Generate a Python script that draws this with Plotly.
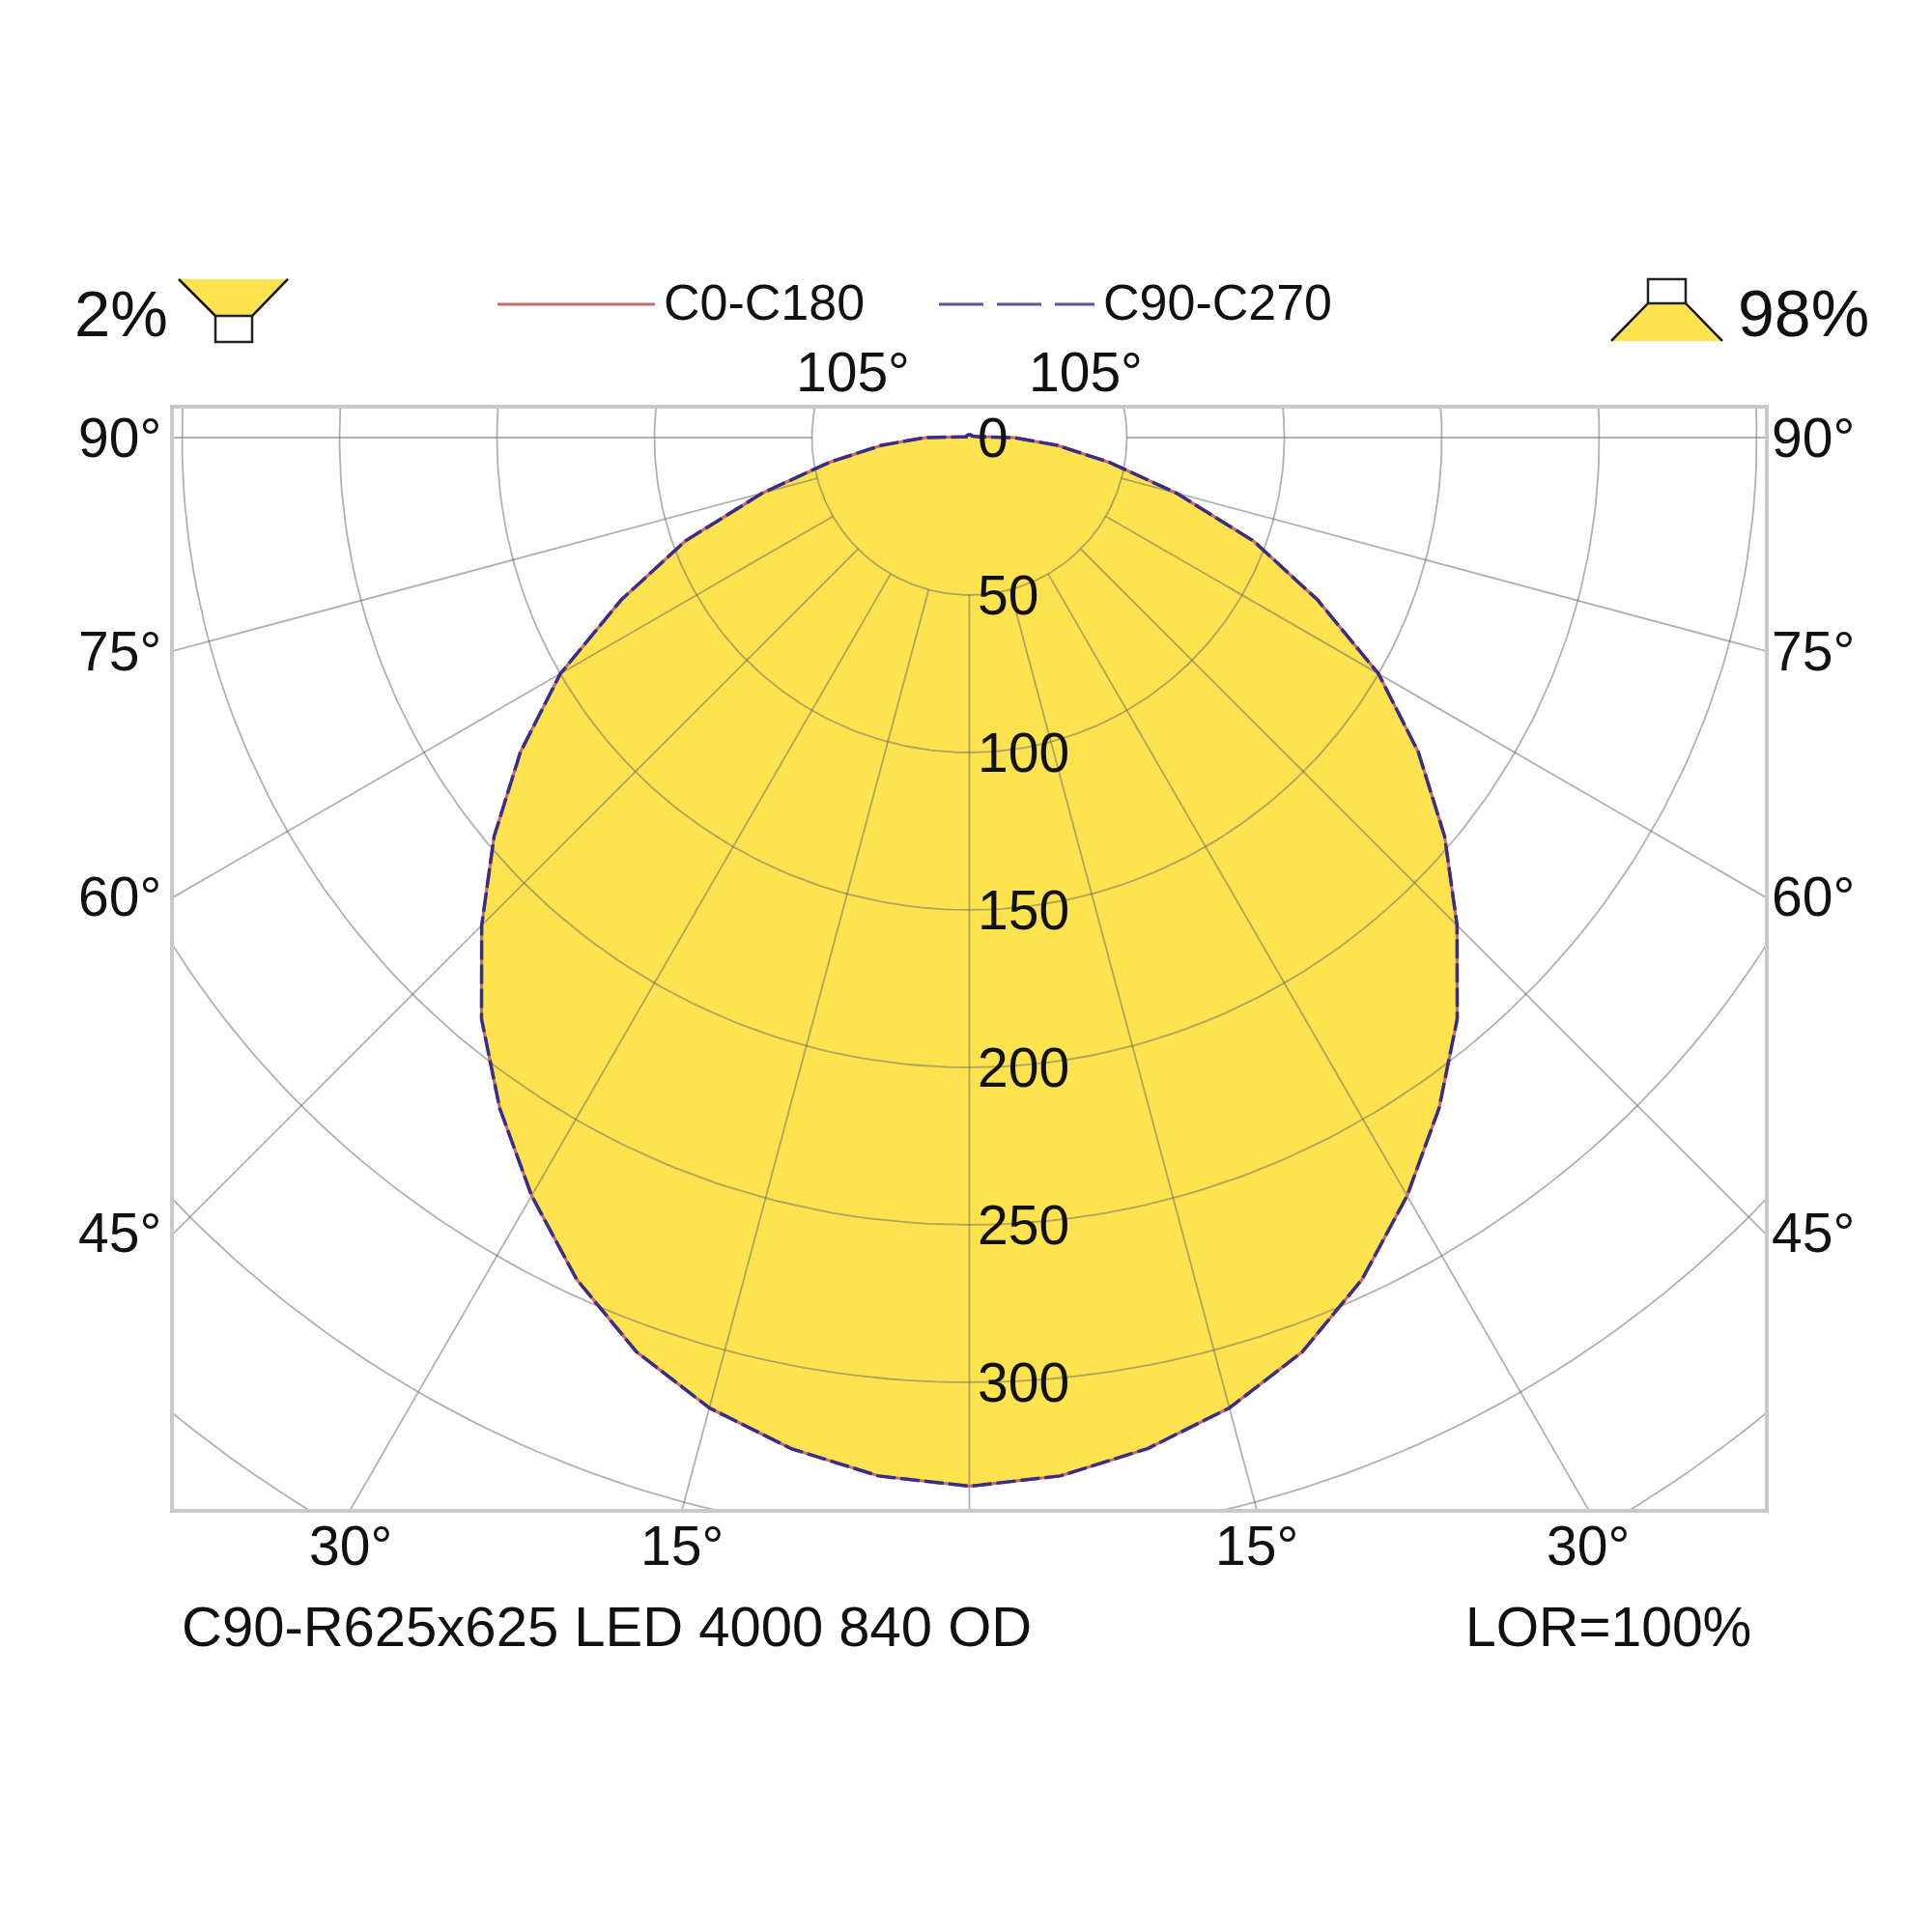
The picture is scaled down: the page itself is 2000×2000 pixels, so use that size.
import numpy as np
import plotly.graph_objects as go

# Luminous intensity, gamma 0..180 deg in 5 deg steps
GAMMA = list(range(0, 181, 5))
I_C0_C180 = [333, 331, 326, 319, 309, 295, 278, 260, 241, 219, 197, 174, 150,
             122, 96, 68, 45, 28, 14, 3, 1.5, 1, 1, 1, 1, 1, 1, 1, 1, 1, 1,
             1, 1, 1, 1, 1, 1]
I_C90_C270 = [333, 331, 326, 319, 309, 295, 278, 260, 241, 219, 197, 174, 150,
              122, 96, 68, 45, 28, 14, 3, 1.5, 1, 1, 1, 1, 1, 1, 1, 1, 1, 1,
              1, 1, 1, 1, 1, 1]

RINGS = [50, 100, 150, 200, 250, 300, 350, 400]
RING_LABELS = [0, 50, 100, 150, 200, 250, 300]
SPOKES = list(range(-90, 91, 15))
ANGLE_LABELS = [15, 30, 45, 60, 75, 90, 105]

PRODUCT = "C90-R625x625 LED 4000 840 OD"
LOR = "LOR=100%"
DOWN_SHARE = "98%"
UP_SHARE = "2%"
SERIES = ["C0-C180", "C90-C270"]

# view window of the frame (intensity units)
X_HALF = 252.6
Y_TOP = 9.2
Y_BOTTOM = -340.2

W, H = 2000, 2000
OFF = 8  # page margin of the html body
# frame edges on the page: left 180, right 1827, top 423, bottom 1562
ML, MR, MT, MB = 180 - OFF, W - (1827 - OFF), 423 - OFF, H - (1562 - OFF)

FONT = "Liberation Sans, Arial, sans-serif"
YELLOW = "#fde350"
RED = "#c96a6a"
PURPLE = "#3a2d88"
GRID = "rgba(100,100,100,0.5)"
FRAME = "#c9c9c9"


def pp(px, py):
    # page pixel position -> paper coordinates
    px, py = px - OFF, py - OFF
    return (px - ML) / (W - ML - MR), (H - MB - py) / (H - MT - MB)


def full_curve(vals):
    g = np.array(GAMMA, dtype=float)
    v = np.array(vals, dtype=float)
    theta = np.concatenate([-g[::-1], g[1:]])
    r = np.concatenate([v[::-1], v[1:]])
    t = np.radians(theta)
    return r * np.sin(t), -r * np.cos(t)


fig = go.Figure()

# yellow body
fx, fy = full_curve(I_C0_C180)
fig.add_trace(go.Scatter(x=fx, y=fy, mode="lines", fill="toself",
                         fillcolor=YELLOW, line=dict(width=0),
                         hoverinfo="skip", showlegend=False))

# polar grid: rings and spokes
gx, gy = [], []
phi = np.linspace(0, 2 * np.pi, 361)
for r in RINGS:
    gx += list(r * np.sin(phi)) + [None]
    gy += list(-r * np.cos(phi)) + [None]
for a in SPOKES:
    t = np.radians(a)
    gx += [50 * np.sin(t), 700 * np.sin(t), None]
    gy += [-50 * np.cos(t), -700 * np.cos(t), None]
fig.add_trace(go.Scatter(x=gx, y=gy, mode="lines",
                         line=dict(color=GRID, width=1.8),
                         hoverinfo="skip", showlegend=False))

# C-plane curves
cx, cy = full_curve(I_C0_C180)
fig.add_trace(go.Scatter(x=cx, y=cy, mode="lines", name=SERIES[0],
                         line=dict(color=RED, width=3), showlegend=False))
dx, dy = full_curve(I_C90_C270)
fig.add_trace(go.Scatter(x=dx, y=dy, mode="lines", name=SERIES[1],
                         line=dict(color=PURPLE, width=3.5, dash="20px,5px"),
                         showlegend=False))

ann = []
# intensity scale labels
for v in RING_LABELS:
    ann.append(dict(x=0, y=-v, xref="x", yref="y", text=str(v),
                    xanchor="left", yanchor="middle", xshift=6,
                    showarrow=False, font=dict(size=57)))

# angle labels where the spokes leave the frame
for a in ANGLE_LABELS:
    for side in (-1, 1):
        t = np.radians(a)
        ux, uy = side * np.sin(t), -np.cos(t)
        tx = X_HALF / abs(ux)
        ty = (Y_BOTTOM / uy) if uy < -1e-9 else ((Y_TOP / uy) if uy > 1e-9 else 1e9)
        s = min(tx, ty)
        d = dict(x=ux * s, y=uy * s, xref="x", yref="y", text=f"{a}°",
                 showarrow=False, font=dict(size=57))
        if tx <= ty:
            d.update(xanchor="left" if side > 0 else "right",
                     xshift=5 if side > 0 else -11, yanchor="middle")
        elif uy < 0:
            d.update(xanchor="center", yanchor="top", yshift=-4)
        else:
            d.update(xanchor="center", yanchor="bottom", yshift=4,
                     xshift=9 * side)
        ann.append(d)

# header / footer texts
for txt, px, py, xa, size in [
    (UP_SHARE, 75, 324, "left", 67),
    (DOWN_SHARE, 1797, 324, "left", 68),
    (SERIES[0], 685, 313, "left", 52),
    (SERIES[1], 1140, 313, "left", 52),
    (PRODUCT, 186, 1684, "left", 58),
    (LOR, 1815, 1684, "right", 57),
]:
    x0, y0 = pp(px, py)
    ann.append(dict(x=x0, y=y0, xref="paper", yref="paper", text=txt,
                    xanchor=xa, yanchor="middle", showarrow=False,
                    font=dict(size=size)))

shapes = []


def path(points, close=True):
    s = ""
    for i, (px, py) in enumerate(points):
        x0, y0 = pp(px, py)
        s += ("M" if i == 0 else "L") + f"{x0:.5f},{y0:.5f} "
    return s + ("Z" if close else "")


# legend strokes
x0, y0 = pp(515, 315)
x1, _ = pp(678, 315)
shapes.append(dict(type="line", xref="paper", yref="paper", x0=x0, x1=x1,
                   y0=y0, y1=y0, line=dict(color=RED, width=3)))
x0, y0 = pp(972, 315)
x1, _ = pp(1133, 315)
shapes.append(dict(type="line", xref="paper", yref="paper", x0=x0, x1=x1,
                   y0=y0, y1=y0, line=dict(color="#5b52a8", width=3,
                                           dash="46px,14px")))

# upward-light icon (2%)
shapes.append(dict(type="path", xref="paper", yref="paper",
                   path=path([(185, 289), (298, 289), (261, 327), (223, 327)]),
                   fillcolor=YELLOW, line=dict(width=0)))
shapes.append(dict(type="path", xref="paper", yref="paper",
                   path=path([(185, 289), (223, 327)], False) + " " +
                   path([(298, 289), (261, 327)], False),
                   line=dict(color="#111", width=2.5)))
shapes.append(dict(type="path", xref="paper", yref="paper",
                   path=path([(223, 327), (261, 327), (261, 354), (223, 354)]),
                   fillcolor="white", line=dict(color="#222", width=2.5)))

# downward-light icon (98%)
shapes.append(dict(type="path", xref="paper", yref="paper",
                   path=path([(1706, 314), (1745, 314), (1783, 353), (1668, 353)]),
                   fillcolor=YELLOW, line=dict(width=0)))
shapes.append(dict(type="path", xref="paper", yref="paper",
                   path=path([(1706, 314), (1668, 353)], False) + " " +
                   path([(1745, 314), (1783, 353)], False),
                   line=dict(color="#111", width=2.5)))
shapes.append(dict(type="path", xref="paper", yref="paper",
                   path=path([(1706, 289), (1745, 289), (1745, 314), (1706, 314)]),
                   fillcolor="white", line=dict(color="#222", width=2.5)))

fig.update_layout(
    width=W, height=H, autosize=False,
    margin=dict(l=ML, r=MR, t=MT, b=MB),
    paper_bgcolor="white", plot_bgcolor="white",
    font=dict(family=FONT, color="#111"),
    showlegend=False,
    annotations=ann,
    shapes=shapes,
    xaxis=dict(range=[-X_HALF, X_HALF], showgrid=False, zeroline=False,
               showticklabels=False, ticks="", showline=True, mirror=True,
               linecolor=FRAME, linewidth=4, fixedrange=True),
    yaxis=dict(range=[Y_BOTTOM, Y_TOP], showgrid=False, zeroline=False,
               showticklabels=False, ticks="", showline=True, mirror=True,
               linecolor=FRAME, linewidth=4, fixedrange=True),
)

fig.write_html("out.html")
